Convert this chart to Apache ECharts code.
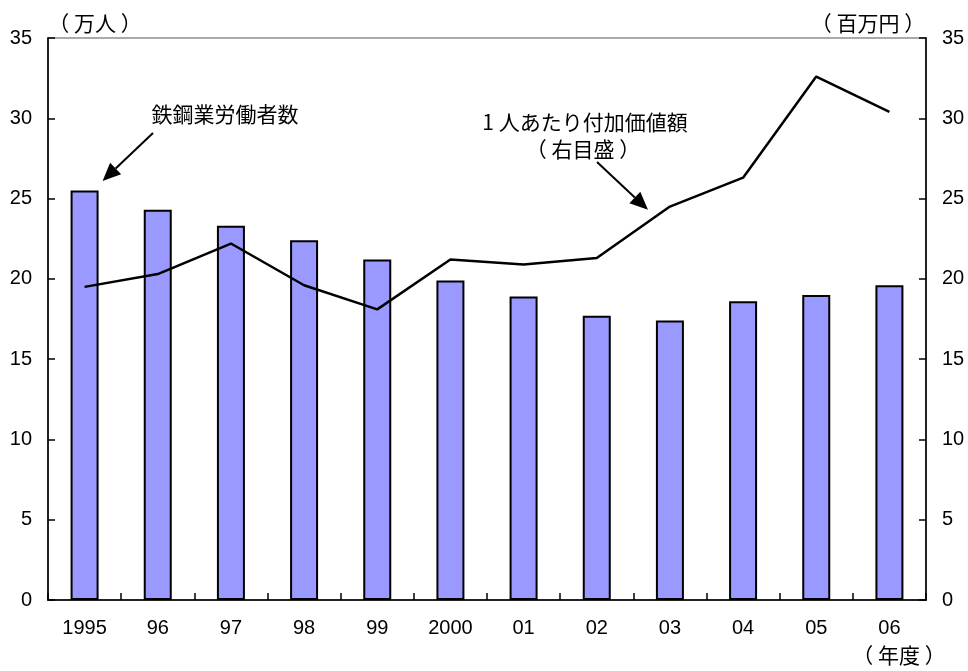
<!DOCTYPE html>
<html><head><meta charset="utf-8">
<script src="https://cdn.jsdelivr.net/npm/echarts@6/dist/echarts.min.js"></script>
<style>html,body{margin:0;padding:0;background:#fff}#c{width:968px;height:671px}</style>
</head><body><div id="c"></div>
<script>
const categories = ['1995','96','97','98','99','2000','01','02','03','04','05','06'];
const workers = [25.5, 24.3, 23.3, 22.4, 21.2, 19.9, 18.9, 17.7, 17.4, 18.6, 19.0, 19.6];
const valueAdded = [19.5, 20.3, 22.2, 19.6, 18.1, 21.2, 20.9, 21.3, 24.5, 26.3, 32.6, 30.4];
const leftUnit = '（ 万人 ）';
const rightUnit = '（ 百万円 ）';
const xUnit = '（ 年度 ）';
const workersLabel = '鉄鋼業労働者数';
const vaLabel1 = '1 人あたり付加価値額';
const vaLabel2 = '（ 右目盛 ）';

const numFont = "'Liberation Sans', Arial, sans-serif";
const jpFont = "'Noto Sans CJK JP', sans-serif";
const chart = echarts.init(document.getElementById('c'));
const G = {left: 48, right: 42, top: 38, bottom: 71};
const axisLbl = {color: '#000', fontSize: 20, fontFamily: numFont};
const tick = {show: true, inside: true, length: 7, lineStyle: {color: '#000', width: 1.5}};
chart.setOption({
  animation: false,
  grid: {left: G.left, right: G.right, top: G.top, bottom: G.bottom, show: true, borderColor: '#555', borderWidth: 1, containLabel: false},
  xAxis: {
    type: 'category', data: categories,
    axisLine: {lineStyle: {color: '#222', width: 2}},
    axisTick: Object.assign({interval: 0}, tick),
    axisLabel: Object.assign({margin: 18, interval: 0}, axisLbl)
  },
  yAxis: [
    {type: 'value', min: 0, max: 35, interval: 5, position: 'left',
     axisLine: {show: true, lineStyle: {color: '#222', width: 2}},
     axisTick: tick, splitLine: {show: false},
     axisLabel: Object.assign({margin: 16}, axisLbl)},
    {type: 'value', min: 0, max: 35, interval: 5, position: 'right',
     axisLine: {show: true, lineStyle: {color: '#222', width: 2}},
     axisTick: tick, splitLine: {show: false},
     axisLabel: Object.assign({margin: 16}, axisLbl)}
  ],
  series: [
    {type: 'bar', data: workers, yAxisIndex: 0, barWidth: 28,
     itemStyle: {color: '#9999FF', borderColor: '#000', borderWidth: 2}, z: 2},
    {type: 'line', data: valueAdded, yAxisIndex: 1, symbol: 'none',
     lineStyle: {color: '#000', width: 2.5}, z: 3}
  ]
});

function px(cat, val) { return chart.convertToPixel({xAxisIndex: 0, yAxisIndex: 0}, [cat, val]); }
// annotation anchors derived from data positions
const tip1 = px(0, workers[0] + 0.6);
const a7 = px(7, 24.3), a8 = px(8, 24.3);
const tip2 = [a7[0] + (a8[0] - a7[0]) * 0.7, a7[1]];
const txt = (t, x, y) => ({type: 'text', x: x, y: y, style: {text: t, font: '21px ' + jpFont, fill: '#000', textAlign: 'center', textVerticalAlign: 'middle'}});
function arrow(x1, y1, x2, y2) {
  const ang = Math.atan2(y2 - y1, x2 - x1), L = 18, W = 8;
  const bx = x2 - L * Math.cos(ang), by = y2 - L * Math.sin(ang);
  const nx = -Math.sin(ang), ny = Math.cos(ang);
  return [
    {type: 'line', shape: {x1: x1, y1: y1, x2: bx, y2: by}, style: {stroke: '#000', lineWidth: 2}},
    {type: 'polygon', shape: {points: [[x2, y2], [bx + nx * W, by + ny * W], [bx - nx * W, by - ny * W]]}, style: {fill: '#000'}}
  ];
}
chart.setOption({graphic: [
  txt(leftUnit, 95, 23),
  txt(rightUnit, 868, 23),
  txt(xUnit, 899, 655),
  txt(workersLabel, 225, 114),
  txt(vaLabel1, 585, 122),
  txt(vaLabel2, 583, 149),
  ...arrow(153, 133, tip1[0] + 18, tip1[1]),
  ...arrow(597, 162, tip2[0], tip2[1])
]});
</script></body></html>
